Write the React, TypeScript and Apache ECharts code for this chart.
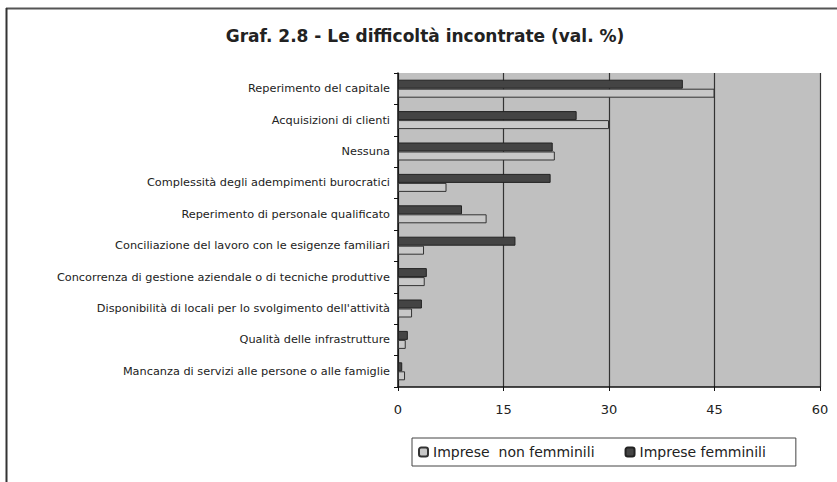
import React, { useEffect, useRef } from "react";
import * as echarts from "echarts";

const title = "Graf. 2.8 - Le difficoltà incontrate (val. %)";
const categories = [
  "Reperimento del capitale",
  "Acquisizioni di clienti",
  "Nessuna",
  "Complessità degli adempimenti burocratici",
  "Reperimento di personale qualificato",
  "Conciliazione del lavoro con le esigenze familiari",
  "Concorrenza di gestione aziendale o di tecniche produttive",
  "Disponibilità di locali per lo svolgimento dell'attività",
  "Qualità delle infrastrutture",
  "Mancanza di servizi alle persone o alle famiglie",
];
const nonFemminili = [45.0, 30.0, 22.3, 6.9, 12.6, 3.7, 3.8, 2.0, 1.1, 1.0];
const femminili = [40.5, 25.4, 22.0, 21.7, 9.1, 16.7, 4.1, 3.4, 1.4, 0.6];
const seriesNames = ["Imprese  non femminili", "Imprese femminili"];

export default function App() {
  const ref = useRef<HTMLDivElement>(null);
  useEffect(() => {
    if (!ref.current) return;
    const chart = echarts.init(ref.current, null, { renderer: "svg" });
    const font = "DejaVu Sans, Verdana, sans-serif";
    chart.setOption({
      animation: false,
      backgroundColor: "#ffffff",
      title: {
        text: title,
        left: 420,
        textAlign: "center",
        top: 22,
        textStyle: { fontFamily: font, fontSize: 17, fontWeight: "bold", color: "#222" },
      },
      legend: {
        data: seriesNames,
        left: 412,
        top: 438,
        orient: "horizontal",
        itemWidth: 9,
        itemHeight: 9,
        itemGap: 30,
        padding: [7, 30, 7, 6],
        borderColor: "#444",
        borderWidth: 1,
        textStyle: { fontFamily: font, fontSize: 14, color: "#222" },
      },
      graphic: [
        { type: "line", shape: { x1: 6, y1: 8.5, x2: 837, y2: 8.5 }, style: { stroke: "#555", lineWidth: 2 } },
        { type: "line", shape: { x1: 6.5, y1: 8, x2: 6.5, y2: 482 }, style: { stroke: "#333", lineWidth: 2 } },
      ],
      grid: {
        left: 398,
        top: 73,
        right: 17,
        bottom: 95,
        show: true,
        backgroundColor: "#c0c0c0",
        borderWidth: 0,
      },
      xAxis: {
        type: "value",
        min: 0,
        max: 60,
        interval: 15,
        axisLine: { show: true, lineStyle: { color: "#111", width: 1.5 } },
        axisTick: { show: true, length: 4, lineStyle: { color: "#111" } },
        axisLabel: { fontFamily: font, fontSize: 13, color: "#222", margin: 16 },
        splitLine: { show: true, lineStyle: { color: "#333", width: 1.2 } },
      },
      yAxis: {
        type: "category",
        data: categories,
        inverse: true,
        axisLine: { show: true, lineStyle: { color: "#111", width: 1.5 } },
        axisTick: { show: true, length: 4, lineStyle: { color: "#111" } },
        axisLabel: { fontFamily: font, fontSize: 11.3, color: "#222", margin: 8 },
      },
      series: [
        {
          name: seriesNames[1],
          type: "bar",
          data: femminili,
          barWidth: 9,
          barGap: "0%",
          itemStyle: { color: "#444444", borderColor: "#222", borderWidth: 1 },
          z: 2,
        },
        {
          name: seriesNames[0],
          type: "bar",
          data: nonFemminili,
          barWidth: 9,
          barGap: "0%",
          itemStyle: { color: "#c8c8c8", borderColor: "#333", borderWidth: 1 },
          z: 2,
        },
      ],
    });
    return () => chart.dispose();
  }, []);
  return (
    <div
      ref={ref}
      style={{ position: "fixed", left: 0, top: 0, width: 837, height: 482 }}
    />
  );
}
